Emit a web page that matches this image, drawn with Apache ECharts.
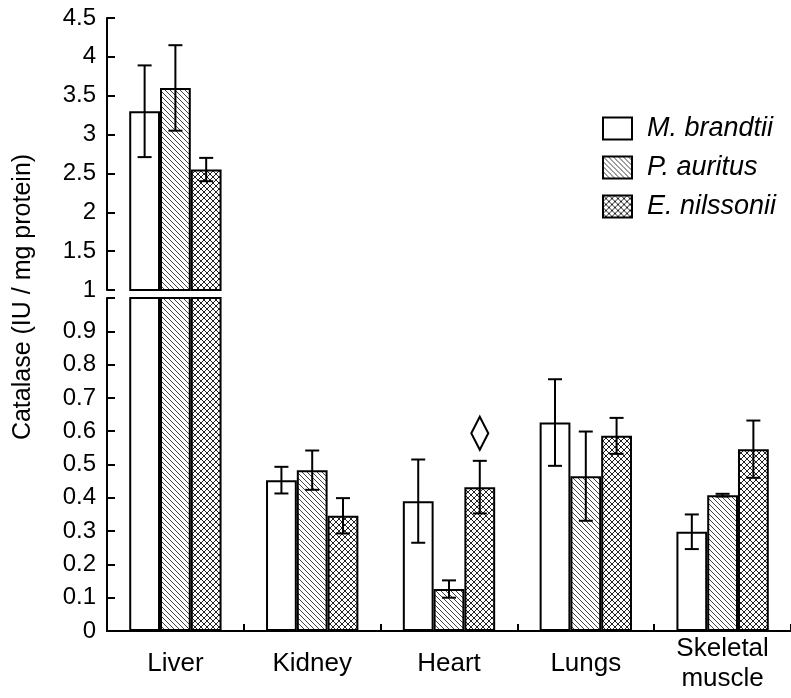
<!DOCTYPE html>
<html>
<head>
<meta charset="utf-8">
<script src="https://cdn.jsdelivr.net/npm/echarts@6/dist/echarts.min.js"></script>
<style>html,body{margin:0;padding:0;background:#fff}#c{width:791px;height:698px}</style>
</head>
<body>
<div id="c"></div>
<script>
// ---- data ----
const categories = ['Liver', 'Kidney', 'Heart', 'Lungs', 'Skeletal\nmuscle'];
const speciesNames = ['M. brandtii', 'P. auritus', 'E. nilssonii'];
const mBrandtiiMean = [3.30, 0.453, 0.390, 0.626, 0.298];
const mBrandtiiErr  = [0.59, 0.040, 0.125, 0.130, 0.052];
const pAuritusMean  = [3.60, 0.483, 0.126, 0.465, 0.408];
const pAuritusErr   = [0.55, 0.059, 0.026, 0.134, 0.004];
const eNilssoniiMean = [2.55, 0.346, 0.432, 0.586, 0.546];
const eNilssoniiErr  = [0.15, 0.053, 0.079, 0.054, 0.086];
// diamond marker: [category index, species index, value]
const diamondMarkers = [[2, 2, 0.594]];
const breakValue = 1;
const upperTicks = [1, 4.5, 0.5];   // min, max, interval
const lowerTicks = [0, 1, 0.1];

// ---- styling ----
const FONT = '"Liberation Sans", Arial, sans-serif';
const BAR_FRAC = 0.225;

function makePattern(kind) {
  const s = kind === 'hatch' ? 5 : 6;
  const c = document.createElement('canvas');
  c.width = s; c.height = s;
  const ctx = c.getContext('2d');
  ctx.fillStyle = '#fff';
  ctx.fillRect(0, 0, s, s);
  ctx.fillStyle = kind === 'hatch' ? '#444' : '#222';
  for (let i = 0; i < s; i++) {
    ctx.fillRect(i, i, 1, 1);
    if (kind === 'cross') ctx.fillRect(s - 1 - i, i, 1, 1);
  }
  return { image: c, repeat: 'repeat' };
}
const fills = ['#ffffff', makePattern('hatch'), makePattern('cross')];
const means = [mBrandtiiMean, pAuritusMean, eNilssoniiMean];
const errs = [mBrandtiiErr, pAuritusErr, eNilssoniiErr];

const chart = echarts.init(document.getElementById('c'), null, { renderer: 'canvas' });

const series = [];
// bars, upper (grid 0) and lower (grid 1)
for (let g = 0; g < 2; g++) {
  speciesNames.forEach((name, i) => {
    series.push({
      type: 'bar', name,
      xAxisIndex: g, yAxisIndex: g,
      data: means[i].map(v => (g === 0 ? (v >= breakValue ? v : '-') : v)),
      barWidth: (BAR_FRAC * 100) + '%', barGap: '0%',
      clip: true,
      itemStyle: { color: fills[i], borderColor: '#000', borderWidth: 2 },
      emphasis: { disabled: true },
      z: 2
    });
  });
}
function errRender(params, api) {
  const cat = api.value(0), mean = api.value(1), err = api.value(2), si = api.value(3);
  const band = api.size([1, 0])[0];
  const off = (si - 1) * band * BAR_FRAC;
  const top = api.coord([cat, mean + err]);
  const bot = api.coord([cat, mean - err]);
  const x = top[0] + off, h = 7;
  const st = { stroke: '#000', lineWidth: 2, fill: null };
  return {
    type: 'group',
    children: [
      { type: 'line', shape: { x1: x, y1: top[1], x2: x, y2: bot[1] }, style: st },
      { type: 'line', shape: { x1: x - h, y1: top[1], x2: x + h, y2: top[1] }, style: st },
      { type: 'line', shape: { x1: x - h, y1: bot[1], x2: x + h, y2: bot[1] }, style: st }
    ]
  };
}
for (let g = 0; g < 2; g++) {
  const data = [];
  means.forEach((arr, si) => arr.forEach((m, ci) => {
    const upper = m >= breakValue;
    if ((g === 0) === upper) data.push([ci, m, errs[si][ci], si]);
  }));
  series.push({
    type: 'custom', xAxisIndex: g, yAxisIndex: g, renderItem: errRender,
    data, z: 5, silent: true, encode: { x: 0, y: 1 }
  });
}
// diamond marker
series.push({
  type: 'custom', xAxisIndex: 1, yAxisIndex: 1, silent: true, z: 6,
  encode: { x: 0, y: 2 },
  data: diamondMarkers,
  renderItem(params, api) {
    const cat = api.value(0), si = api.value(1), v = api.value(2);
    const band = api.size([1, 0])[0];
    const p = api.coord([cat, v]);
    const cx = p[0] + (si - 1) * band * BAR_FRAC, cy = p[1];
    const w = 8.5, h = 16.5;
    return {
      type: 'polygon',
      shape: { points: [[cx, cy - h], [cx + w, cy], [cx, cy + h], [cx - w, cy]] },
      style: { fill: '#fff', stroke: '#000', lineWidth: 2 }
    };
  }
});

const axisLine = { show: true, lineStyle: { color: '#000', width: 2 } };
const yLabel = { color: '#000', fontSize: 24, fontFamily: FONT, margin: 11 };

chart.setOption({
  animation: false,
  backgroundColor: '#fff',
  grid: [
    { left: 107, width: 688.5, top: 18, bottom: 408 },
    { left: 107, width: 688.5, top: 298, bottom: 67 }
  ],
  xAxis: [
    { type: 'category', gridIndex: 0, data: categories, show: false },
    {
      type: 'category', gridIndex: 1, data: categories,
      axisLine,
      axisTick: { show: true, inside: true, length: 7, lineStyle: { color: '#000', width: 2 } },
      axisLabel: {
        color: '#000', fontSize: 26, fontFamily: FONT, margin: 33,
        verticalAlign: 'middle', lineHeight: 30, interval: 0
      }
    }
  ],
  yAxis: [
    {
      type: 'value', gridIndex: 0, min: upperTicks[0], max: upperTicks[1], interval: upperTicks[2],
      axisLine, splitLine: { show: false },
      axisTick: { show: true, inside: true, length: 8, lineStyle: { color: '#000', width: 2 } },
      axisLabel: yLabel
    },
    {
      type: 'value', gridIndex: 1, min: lowerTicks[0], max: lowerTicks[1], interval: lowerTicks[2],
      axisLine, splitLine: { show: false },
      axisTick: { show: true, inside: true, length: 8, lineStyle: { color: '#000', width: 2 } },
      axisLabel: Object.assign({}, yLabel, {
        formatter: v => (v >= breakValue - 1e-9 ? '' : String(+v.toFixed(1)))
      })
    }
  ],
  legend: {
    data: speciesNames,
    orient: 'vertical', left: 602, top: 115, padding: 0,
    itemWidth: 29, itemHeight: 22, itemGap: 12,
    icon: 'rect',
    selectedMode: false,
    textStyle: {
      color: '#000', fontSize: 27, fontStyle: 'italic', fontFamily: FONT,
      lineHeight: 22, padding: [0, 0, 0, 10]
    }
  },
  graphic: [{
    type: 'text', x: 23, y: 297, rotation: Math.PI / 2, silent: true,
    style: {
      text: 'Catalase (IU / mg protein)', fill: '#000',
      font: '25px "Liberation Sans", Arial, sans-serif',
      align: 'center', verticalAlign: 'middle'
    }
  }],
  series
});
</script>
</body>
</html>
